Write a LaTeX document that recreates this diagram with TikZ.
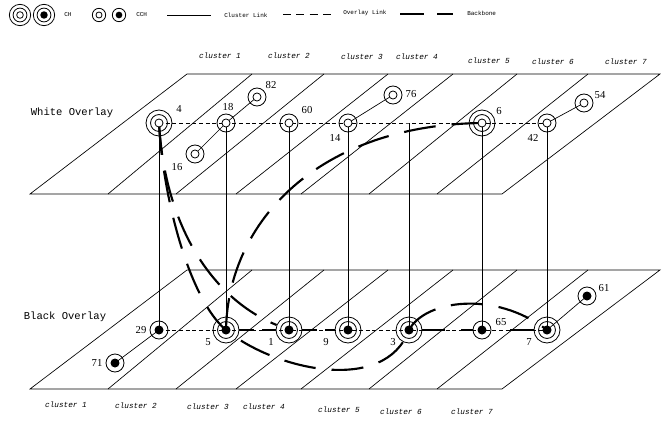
\documentclass[tikz,border=0pt]{standalone}
\usepackage{fontspec}
\setmainfont{Liberation Serif}
\setmonofont{Liberation Mono}
\usetikzlibrary{backgrounds}

\begin{document}
\begin{tikzpicture}[x=0.75pt, y=-0.75pt, every node/.style={inner sep=0pt}, % 1 unit = 1 pixel of the sketch
        plane/.style={line width=0.5pt},
        clink/.style={line width=0.5pt},
        olink/.style={line width=0.5pt, dash pattern=on 3pt off 2pt},
        bbone/.style={line width=1.6pt, dash pattern=on 24pt off 12pt},
        chw/.style={circle, draw, line width=0.6pt, minimum size={2*#1},
            path picture={\draw[line width=0.6pt] (path picture bounding box.center) circle ({0.65*#1});
                \draw[line width=0.6pt, fill=white] (path picture bounding box.center) circle ({0.31*#1});}},
        chw/.default=9.75pt,
        chb/.style={circle, draw, line width=0.6pt, minimum size={2*#1},
            path picture={\draw[line width=0.6pt] (path picture bounding box.center) circle ({0.65*#1});
                \fill (path picture bounding box.center) circle ({0.35*#1});}},
        chb/.default=9.75pt,
        cchw/.style={circle, draw, line width=0.6pt, minimum size={2*#1},
            path picture={\draw[line width=0.6pt, fill=white] (path picture bounding box.center) circle ({0.45*#1});}},
        cchw/.default=6.75pt,
        cchb/.style={circle, draw, line width=0.6pt, minimum size={2*#1},
            path picture={\fill (path picture bounding box.center) circle ({0.5*#1});}},
        cchb/.default=6.75pt,
        num/.style={font=\fontsize{8}{9}\selectfont},
        ovl/.style={font=\ttfamily\fontsize{7.9}{9}\selectfont},
        clu/.style={font=\ttfamily\itshape\fontsize{5.8}{7}\selectfont},
        lgd/.style={font=\ttfamily\fontsize{4.5}{5}\selectfont, anchor=west}]

        \useasboundingbox (0,0) rectangle (665,421);

        % Legend
        \node[chw=8pt] (LgChW) at (20,15) {};
        \node[chb=8pt] (LgChB) at (44,15) {};
        \node[lgd] (LgChTxt) at (64,15) {CH};
        \node[cchw=5pt] (LgCchW) at (99,15) {};
        \node[cchb=5pt] (LgCchB) at (119,15) {};
        \node[lgd] (LgCchTxt) at (136,15) {CCH};
        \coordinate (LgClA) at (167,15);
        \coordinate (LgClB) at (211,15);
        \node[lgd] (LgClTxt) at (224,15) {Cluster Link};
        \coordinate (LgOlA) at (283,14);
        \coordinate (LgOlB) at (336,14);
        \node[lgd] (LgOlTxt) at (343,13) {Overlay Link};
        \coordinate (LgBbA) at (400,14);
        \coordinate (LgBbB) at (453,14);
        \node[lgd] (LgBbTxt) at (467,13) {Backbone};

        \draw[clink] (LgClA) -- (LgClB);
        \draw[olink, dash pattern=on 6pt off 4pt] (LgOlA) -- (LgOlB);
        \draw[bbone, dash pattern=on 18pt off 10pt] (LgBbA) -- (LgBbB);

        % Draw the white overlay plane
        \draw[plane] (30,194) -- (502,194) -- (660,74) -- (187,74) -- cycle;
        \draw[plane] (108,194) -- (252,74);
        \draw[plane] (176,194) -- (324,74);
        \draw[plane] (236,194) -- (388,74);
        \draw[plane] (301,194) -- (453,74);
        \draw[plane] (369,194) -- (517,74);
        \draw[plane] (437,194) -- (588,74);

        % Draw the black overlay plane
        \draw[plane] (30,389) -- (502,389) -- (660,270) -- (187,270) -- cycle;
        \draw[plane] (108,389) -- (252,270);
        \draw[plane] (176,389) -- (324,270);
        \draw[plane] (236,389) -- (388,270);
        \draw[plane] (301,389) -- (453,270);
        \draw[plane] (369,389) -- (517,270);
        \draw[plane] (437,389) -- (588,270);

        \node[ovl] (WhiteLbl) at (72,113) {White Overlay};
        \node[ovl] (BlackLbl) at (65,317) {Black Overlay};

        % Cluster names above and below
        \node[clu] (TopClu1) at (220,56) {cluster 1};
        \node[clu] (TopClu2) at (289,56) {cluster 2};
        \node[clu] (TopClu3) at (362,57) {cluster 3};
        \node[clu] (TopClu4) at (417,57) {cluster 4};
        \node[clu] (TopClu5) at (489,61) {cluster 5};
        \node[clu] (TopClu6) at (553,62) {cluster 6};
        \node[clu] (TopClu7) at (626,62) {cluster 7};
        \node[clu] (BotClu1) at (66,405) {cluster 1};
        \node[clu] (BotClu2) at (136,406) {cluster 2};
        \node[clu] (BotClu3) at (208,407) {cluster 3};
        \node[clu] (BotClu4) at (264,407) {cluster 4};
        \node[clu] (BotClu5) at (339,410) {cluster 5};
        \node[clu] (BotClu6) at (401,412) {cluster 6};
        \node[clu] (BotClu7) at (472,412) {cluster 7};

        % White overlay nodes
        \node[chw] (W4) at (159,123) {};
        \node[cchw] (W18) at (226,123) {};
        \node[cchw] (W82) at (257,97) {};
        \node[cchw] (W16) at (195,154) {};
        \node[cchw] (W60) at (289,123) {};
        \node[cchw] (W14) at (348,123) {};
        \node[cchw] (W76) at (393,95) {};
        \node[chw] (W6) at (482,123) {};
        \node[cchw] (W42) at (547,123) {};
        \node[cchw] (W54) at (584,103) {};
        \coordinate (WTap) at (409,123);

        \node[num] (W4Lbl) at (179,109) {4};
        \node[num] (W18Lbl) at (228,107) {18};
        \node[num] (W82Lbl) at (271,85) {82};
        \node[num] (W16Lbl) at (177,167) {16};
        \node[num] (W60Lbl) at (307,110) {60};
        \node[num] (W14Lbl) at (335,138) {14};
        \node[num] (W76Lbl) at (411,94) {76};
        \node[num] (W6Lbl) at (499,111) {6};
        \node[num] (W42Lbl) at (533,138) {42};
        \node[num] (W54Lbl) at (600,95) {54};

        % Black overlay nodes
        \node[cchb] (B29) at (159,330) {};
        \node[cchb] (B71) at (115,363) {};
        \node[chb] (B5) at (226,330) {};
        \node[chb] (B1) at (289,330) {};
        \node[chb] (B9) at (348,330) {};
        \node[chb] (B3) at (409,330) {};
        \node[cchb] (B65) at (482,330) {};
        \node[chb] (B7) at (547,330) {};
        \node[cchb] (B61) at (587,296) {};

        \node[num] (B29Lbl) at (141,330) {29};
        \node[num] (B71Lbl) at (97,363) {71};
        \node[num] (B5Lbl) at (208,342) {5};
        \node[num] (B1Lbl) at (271,342) {1};
        \node[num] (B9Lbl) at (326,342) {9};
        \node[num] (B3Lbl) at (393,342) {3};
        \node[num] (B65Lbl) at (501,322) {65};
        \node[num] (B7Lbl) at (529,342) {7};
        \node[num] (B61Lbl) at (604,288) {61};

        \begin{scope}[on background layer]
            % Draw the cluster links in each overlay
            \draw[clink] (W16.center) -- (W18.center);
            \draw[clink] (W18.center) -- (W82.center);
            \draw[clink] (W14.center) -- (W76.center);
            \draw[clink] (W42.center) -- (W54.center);
            \draw[clink] (B71.center) -- (B29.center);
            \draw[clink] (B7.center) -- (B61.center);

            % Draw the cluster links between the overlays
            \draw[clink] (W4.center) -- (B29.center);
            \draw[clink] (W18.center) -- (B5.center);
            \draw[clink] (W60.center) -- (B1.center);
            \draw[clink] (W14.center) -- (B9.center);
            \draw[clink] (WTap) -- (B3.center);
            \draw[clink] (W6.center) -- (B65.center);
            \draw[clink] (W42.center) -- (B7.center);

            % Draw the overlay links
            \draw[olink] (W4.center) -- (W18.center) -- (W60.center) -- (W14.center) -- (WTap) -- (W6.center) -- (W42.center);
            \draw[olink] (B29.center) -- (B5.center) -- (B1.center) -- (B9.center) -- (B3.center) -- (B65.center) -- (B7.center);

            % Draw the backbone
            \draw[bbone] (W4.center) .. controls (163,200) and (190,300) .. (B5.center)
                .. controls (275,370) and (385,395) .. (B3.center)
                .. controls (425,300) and (495,290) .. (B7.center);
            \draw[bbone] (W4.center) .. controls (165,230) and (215,300) .. (B1);
            \draw[bbone] (B5.center) .. controls (228,220) and (320,125) .. (W6.center);
            \draw[bbone, dash pattern=on 11pt off 6pt] (B5) -- (B1);
            \draw[bbone, dash pattern=on 11pt off 6pt] (B1) -- (B9);
            \draw[bbone, dash pattern=on 17pt off 12pt] (B3) -- (B65);
            \draw[bbone, dash pattern=on 0pt off 14pt on 30pt] (B65) -- (B7);
        \end{scope}

    \end{tikzpicture}
\end{document}
